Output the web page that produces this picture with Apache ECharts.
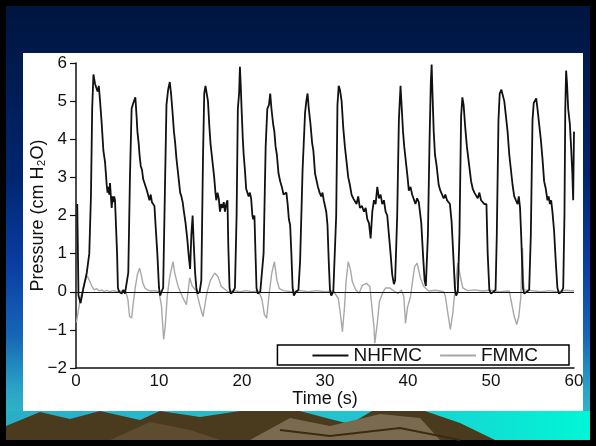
<!DOCTYPE html>
<html>
<head>
<meta charset="utf-8">
<script src="https://cdn.jsdelivr.net/npm/echarts@6/dist/echarts.min.js"></script>
<style>
html, body { margin: 0; padding: 0; background: #000; }
#chart { width: 596px; height: 446px; }
</style>
</head>
<body>
<div id="chart"></div>
<script>
// NHFMC trace (time s / pressure cm H2O)
var nhfmcTime = [
	0.15, 0.3, 0.55, 0.9, 1.3, 1.6, 1.8, 1.95, 2.1, 2.3, 2.45, 2.6, 2.75, 2.9, 3.1, 3.3, 3.5, 3.6, 3.7, 3.8, 3.9, 4.0, 4.1, 4.2, 4.3, 4.4, 4.5, 4.6, 4.7, 4.8, 4.95, 5.05, 5.2, 5.5, 5.7, 5.9, 6.1,
	6.3, 6.5, 6.7, 6.9, 7.05, 7.15, 7.3, 7.4, 7.55, 7.65, 7.8, 7.95, 8.1, 8.25, 8.4, 8.55, 8.7, 8.85, 9.0, 9.15, 9.3, 9.45, 9.6, 9.8, 10.0, 10.15, 10.3,
	10.5, 10.7, 10.9, 11.1, 11.3, 11.45, 11.6, 11.8, 11.95, 12.1, 12.25, 12.4, 12.55, 12.7, 12.85, 13.0, 13.2, 13.4, 13.6, 13.75, 13.9, 14.05, 14.2, 14.35, 14.5, 14.65, 14.9,
	15.1, 15.3, 15.45, 15.6, 15.75, 15.9, 16.05, 16.2, 16.35, 16.5, 16.65, 16.8, 16.9, 17.05, 17.2, 17.35, 17.5, 17.65, 17.8, 17.95, 18.1, 18.25, 18.35, 18.5, 18.65, 18.9, 19.15,
	19.35, 19.5, 19.65, 19.75, 19.85, 19.95, 20.1, 20.2, 20.35, 20.5, 20.65, 20.8, 20.95, 21.1, 21.25, 21.35, 21.5, 21.6, 21.75, 21.9, 22.2, 22.4,
	22.6, 22.85, 23.05, 23.25, 23.4, 23.55, 23.75, 23.9, 24.05, 24.2, 24.4, 24.6, 24.8, 25.0, 25.2, 25.35, 25.5, 25.65, 25.8, 25.95, 26.1, 26.25, 26.5, 26.8,
	27.0, 27.3, 27.6, 27.75, 27.9, 28.05, 28.25, 28.45, 28.6, 28.8, 28.95, 29.15, 29.35, 29.55, 29.7, 29.85, 30.0, 30.15, 30.3, 30.45, 30.6, 30.75, 31.0, 31.2,
	31.35, 31.5, 31.65, 31.8, 32.0, 32.2, 32.4, 32.6, 32.8, 33.0, 33.2, 33.4, 33.6, 33.8, 34.0, 34.2, 34.45, 34.7, 34.9, 35.1, 35.3, 35.5, 35.7, 35.9, 36.1, 36.3, 36.5, 36.7, 36.9, 37.1, 37.3, 37.5, 37.7, 37.9, 38.1, 38.3, 38.45,
	38.7, 38.9, 39.1, 39.25, 39.4, 39.55, 39.75, 39.95, 40.1, 40.3, 40.5, 40.7, 40.9, 41.1, 41.3, 41.45, 41.6, 41.8, 42.0, 42.15,
	42.4, 42.6, 42.75, 42.85, 42.95, 43.1, 43.25, 43.45, 43.7, 43.9, 44.1, 44.3, 44.5, 44.7, 44.9, 45.05, 45.25, 45.45, 45.65, 45.8, 46.0,
	46.2, 46.4, 46.55, 46.7, 46.9, 47.1, 47.35, 47.6, 47.8, 48.0, 48.2, 48.4, 48.6, 48.8, 49.0, 49.2, 49.45, 49.6, 49.8, 50.0, 50.3, 50.55,
	50.7, 50.9, 51.05, 51.25, 51.45, 51.6, 51.8, 52.0, 52.2, 52.4, 52.6, 52.8, 53.0, 53.2, 53.35, 53.5, 53.65, 53.85, 54.0, 54.3, 54.6,
	54.8, 55.0, 55.15, 55.3, 55.45, 55.6, 55.8, 56.0, 56.2, 56.4, 56.6, 56.8, 56.95, 57.1, 57.25, 57.4, 57.6, 57.8, 58.0, 58.2, 58.5, 58.7,
	58.85, 58.95, 59.05, 59.15, 59.3, 59.5, 59.65, 59.8, 59.9, 60.0
];
var nhfmcPressure = [
	2.3, -0.1, -0.3, 0.1, 0.5, 1.0, 2.5, 4.8, 5.7, 5.45, 5.5, 5.25, 5.4, 5.0, 4.4, 3.7, 3.4, 3.1, 2.8, 2.6, 2.75, 2.55, 2.85, 2.5, 2.2, 2.5, 2.35, 2.5, 2.4, 2.45, 1.0, 0.1, 0.0, -0.05, 0.05, -0.05, 0.0,
	0.5, 3.0, 4.8, 4.95, 5.0, 5.1, 4.6, 4.2, 3.9, 3.6, 3.3, 3.2, 2.95, 2.85, 2.8, 2.65, 2.7, 2.4, 2.55, 2.35, 2.4, 2.25, 1.7, 1.0, 0.1, -0.1, 0.0,
	0.1, 2.5, 4.9, 5.3, 5.5, 5.2, 4.8, 4.2, 3.9, 3.5, 3.2, 2.9, 2.6, 2.5, 2.35, 2.1, 1.8, 1.4, 0.9, 0.6, 1.5, 2.0, 1.2, 0.5, 0.1, -0.05, 0.0,
	0.3, 3.5, 5.2, 5.4, 5.35, 5.0, 4.4, 3.9, 3.6, 3.3, 3.0, 2.6, 2.4, 2.6, 2.45, 2.1, 2.3, 2.2, 2.35, 2.1, 2.3, 2.4, 1.2, 0.1, -0.05, 0.0, 0.1,
	2.0, 4.8, 5.2, 5.9, 5.4, 4.8, 4.0, 3.6, 3.2, 2.7, 2.65, 2.5, 2.6, 2.45, 2.0, 1.9, 2.0, 1.2, 0.1, -0.05, 0.0, 0.05,
	1.0, 3.8, 4.8, 4.9, 5.2, 4.8, 4.4, 4.2, 3.8, 3.6, 3.1, 2.9, 2.75, 2.55, 2.5, 2.6, 2.3, 1.9, 1.75, 1.0, 0.1, -0.1, 0.0, 0.05,
	0.8, 3.2, 4.7, 5.0, 5.2, 4.8, 4.4, 3.9, 3.7, 3.1, 2.95, 2.75, 2.6, 2.5, 2.6, 2.4, 2.45, 2.1, 1.75, 0.8, 0.05, -0.1, 0.0, 0.05,
	2.0, 4.9, 5.4, 5.3, 5.0, 4.3, 3.8, 3.4, 3.0, 2.8, 2.55, 2.45, 2.5, 2.3, 2.5, 2.2, 2.25, 2.1, 2.2, 1.9, 1.8, 1.4, 2.1, 2.4, 2.3, 2.75, 2.45, 2.55, 2.3, 2.4, 2.1, 2.0, 1.5, 1.0, 0.45, 0.2, 0.3,
	2.0, 4.5, 5.4, 4.8, 4.2, 3.8, 3.4, 3.0, 2.65, 2.75, 2.55, 2.6, 2.3, 2.45, 2.35, 2.4, 1.8, 1.0, 0.3, 0.15,
	1.5, 4.0, 5.5, 5.96, 5.2, 4.2, 3.6, 3.3, 2.8, 2.65, 2.7, 2.45, 2.55, 2.4, 2.45, 2.3, 1.85, 1.0, 0.1, -0.1, 0.0,
	1.5, 4.6, 5.1, 4.9, 4.3, 3.8, 3.35, 2.9, 2.7, 2.6, 2.55, 2.45, 2.6, 2.4, 2.45, 2.3, 2.3, 1.0, 0.05, -0.05, 0.0, 0.05,
	1.5, 4.5, 5.2, 5.3, 5.25, 5.0, 4.6, 4.2, 3.6, 3.2, 2.8, 2.5, 2.4, 2.3, 2.5, 2.2, 1.4, 0.1, -0.05, 0.0, 0.05,
	1.5, 4.5, 4.95, 4.9, 5.07, 4.8, 4.4, 4.0, 3.5, 2.9, 2.7, 2.4, 2.5, 2.3, 2.4, 2.1, 1.6, 0.8, 0.1, -0.05, 0.0, 0.1,
	2.0, 4.8, 5.8, 5.5, 4.8, 4.4, 3.8, 3.1, 2.4, 4.2
];

// FMMC trace
var fmmcTime = [
	0.05, 0.2, 0.5, 0.8, 1.1, 1.35, 1.6, 1.9, 2.2, 2.5, 2.8, 3.1, 3.4, 3.7, 4.0, 4.5, 5.0, 5.5, 6.0,
	6.25, 6.45, 6.7, 6.9, 7.13, 7.4, 7.66, 7.85, 8.06, 8.3, 8.6, 9.0, 9.5, 10.0,
	10.3, 10.56, 10.75, 11.0, 11.3, 11.69, 11.9, 12.3, 12.8, 13.3, 13.5, 13.7, 14.0, 14.5,
	14.9, 15.3, 15.5, 15.8, 16.2, 16.7, 17.1, 17.5, 18.3, 19.0, 19.8, 20.5, 21.2, 22.0,
	22.4, 22.7, 22.97, 23.3, 23.6, 23.9, 24.2, 24.5, 25.0, 26.0, 27.0, 28.0, 29.0, 30.0, 31.0,
	31.6, 31.85, 32.1, 32.35, 32.55, 32.8, 33.05, 33.3, 33.7, 34.1, 34.5, 35.0, 35.4,
	35.65, 35.9, 36.0, 36.3, 36.55, 36.9, 37.3, 37.8, 38.3, 38.8, 39.2,
	39.5, 39.7, 39.95, 40.3, 40.5, 40.8, 41.1, 41.5, 41.9, 42.5, 43.3, 44.3,
	44.5, 44.8, 45.1, 45.4, 45.7, 46.0, 46.3, 46.6, 47.2, 48.0, 49.0, 50.0, 51.0, 52.2,
	52.4, 52.8, 53.1, 53.35, 53.6, 53.7, 53.8, 53.9, 54.0, 55.0, 56.0, 57.0, 58.0, 59.0, 60.0
];
var fmmcPressure = [
	-0.8, -0.75, -0.2, 0.05, 0.3, 0.42, 0.3, 0.15, 0.05, 0.08, 0.02, 0.05, 0.0, 0.04, 0.0, 0.03, 0.0, 0.02, 0.0,
	-0.2, -0.65, -0.69, -0.3, 0.1, 0.45, 0.62, 0.45, 0.23, 0.1, 0.05, 0.02, 0.03, 0.0,
	-0.38, -1.25, -0.9, -0.1, 0.4, 0.79, 0.49, 0.14, -0.12, -0.34, 0.0, 0.37, 0.15, 0.02,
	-0.34, -0.65, -0.69, 0.0, 0.3, 0.49, 0.4, 0.14, 0.0, 0.03, 0.0, 0.03, 0.0, 0.02,
	-0.2, -0.6, -0.69, 0.0, 0.5, 0.79, 0.31, 0.08, 0.03, 0.0, 0.03, 0.0, 0.03, 0.0, 0.02,
	-0.17, -0.57, -1.05, -0.4, 0.3, 0.79, 0.6, 0.26, 0.05, -0.04, 0.17, 0.22, 0.14,
	-0.4, -0.92, -1.35, -0.83, -0.26, -0.05, 0.1, 0.1, 0.02, -0.05, 0.05,
	-0.13, -0.83, -0.4, -0.13, 0.2, 0.66, 0.75, 0.36, 0.14, 0.02, 0.04, 0.0,
	-0.12, -0.56, -0.99, -0.56, 0.14, 0.75, 0.4, 0.1, 0.03, 0.05, 0.02, 0.04, 0.0, 0.02,
	-0.21, -0.65, -0.86, -0.65, -0.12, 0.6, 1.15, 0.3, 0.05, 0.03, 0.0, 0.03, 0.0, 0.04, 0.02
];

var seriesNames = ['NHFMC', 'FMMC'];

function toPairs(t, p) {
	return t.map(function(v, i) {
		return [v, p[i]];
	});
}

var font = 'Liberation Sans, Arial, Helvetica, sans-serif';

var chart = echarts.init(document.getElementById('chart'));
chart.setOption({
	backgroundColor: '#000',
	animation: false,
	graphic: [
		// slide background
		{
			type: 'rect', z: -10, silent: true,
			shape: { x: 6, y: 6, width: 584, height: 434 },
			style: {
				fill: new echarts.graphic.LinearGradient(0, 0, 0, 1, [
					{ offset: 0, color: '#00153f' },
					{ offset: 0.15, color: '#001b50' },
					{ offset: 0.4, color: '#002670' },
					{ offset: 0.6, color: '#0a3ea4' },
					{ offset: 0.76, color: '#1666b6' },
					{ offset: 0.88, color: '#2aa2c6' },
					{ offset: 1, color: '#34c4c8' }
				])
			}
		},
		{
			type: 'rect', z: -9, silent: true,
			shape: { x: 6, y: 411, width: 584, height: 29 },
			style: {
				fill: new echarts.graphic.LinearGradient(0, 0, 1, 0, [
					{ offset: 0, color: '#2aaec8' },
					{ offset: 0.6, color: '#22c4d0' },
					{ offset: 1, color: '#00f6d6' }
				])
			}
		},
		{
			type: 'polygon', z: -8, silent: true,
			shape: { points: [[6, 426], [40, 412], [70, 419], [100, 411], [140, 420], [160, 411], [200, 417], [240, 411], [300, 411], [330, 419], [350, 424], [372, 411], [425, 411], [460, 423], [495, 440], [6, 440]] },
			style: { fill: '#4a3a1e' }
		},
		{
			type: 'polygon', z: -7, silent: true,
			shape: { points: [[250, 440], [290, 418], [330, 426], [380, 414], [420, 418], [440, 440]] },
			style: { fill: '#7a6a50' }
		},
		{
			type: 'polygon', z: -7, silent: true,
			shape: { points: [[110, 440], [150, 422], [190, 430], [220, 440]] },
			style: { fill: '#5e4c2e' }
		},
		{
			type: 'polyline', z: -6, silent: true,
			shape: { points: [[280, 430], [330, 436], [400, 428], [460, 440]] },
			style: { stroke: '#3a2c14', lineWidth: 2, fill: null }
		},
		// white figure panel
		{
			type: 'rect', z: -5, silent: true,
			shape: { x: 23, y: 53, width: 560, height: 358 },
			style: { fill: '#fff' }
		}
	],
	grid: {
		left: 76,
		right: 22,
		top: 63,
		bottom: 78,
		containLabel: false
	},
	legend: {
		right: 27,
		top: 345,
		itemWidth: 36,
		itemHeight: 2,
		itemGap: 18,
		icon: 'rect',
		borderColor: '#000',
		borderWidth: 1.5,
		borderRadius: 0,
		padding: [1, 31, 0, 35],
		textStyle: { fontSize: 19, color: '#111', fontFamily: font },
		data: seriesNames
	},
	xAxis: {
		type: 'value',
		min: 0,
		max: 60,
		interval: 10,
		name: 'Time (s)',
		nameLocation: 'middle',
		nameGap: 22,
		nameMoveOverlap: false,
		nameTextStyle: { fontSize: 18, color: '#111', fontFamily: font },
		axisLine: { show: true, onZero: false, lineStyle: { color: '#111', width: 1.5 } },
		axisTick: { show: false },
		axisLabel: { fontSize: 17, color: '#111', fontFamily: font, margin: 5 },
		splitLine: { show: false }
	},
	yAxis: {
		type: 'value',
		min: -2,
		max: 6,
		interval: 1,
		name: 'Pressure (cm H\u2082O)',
		nameLocation: 'middle',
		nameRotate: 90,
		nameGap: 29,
		nameMoveOverlap: false,
		nameTextStyle: { fontSize: 18, color: '#111', fontFamily: font },
		axisLine: { show: true, onZero: false, lineStyle: { color: '#111', width: 1.5 } },
		axisTick: { show: true, inside: false, length: 6, lineStyle: { color: '#111', width: 1.2 } },
		axisLabel: {
			fontSize: 17, color: '#111', fontFamily: font, margin: 9,
			formatter: function(v) {
				return String(v).replace('-', '\u2212');
			}
		},
		splitLine: { show: false }
	},
	series: [{
		name: 'NHFMC',
		type: 'line',
		z: 4,
		showSymbol: false,
		symbol: 'none',
		color: '#111',
		lineStyle: { color: '#111', width: 1.8 },
		data: toPairs(nhfmcTime, nhfmcPressure)
	}, {
		name: 'FMMC',
		type: 'line',
		z: 3,
		showSymbol: false,
		symbol: 'none',
		color: '#a8a8a8',
		lineStyle: { color: '#a8a8a8', width: 1.4 },
		data: toPairs(fmmcTime, fmmcPressure),
		markLine: {
			silent: true,
			symbol: 'none',
			label: { show: false },
			lineStyle: { color: '#111', width: 1.2, type: 'solid' },
			data: [{ yAxis: 0 }]
		}
	}]
});
</script>
</body>
</html>
